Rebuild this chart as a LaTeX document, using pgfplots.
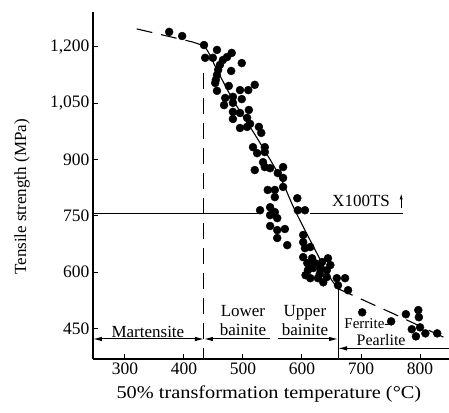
\documentclass[border=0pt]{standalone}
\usepackage{fontspec}
\setmainfont{Liberation Serif}
\usepackage{pgfplots}
\pgfplotsset{compat=1.18}
\usetikzlibrary{arrows.meta}
\begin{document}
\begin{tikzpicture}
\begin{axis}[
  scale only axis, width=356pt, height=347pt,
  xmin=246, xmax=849, ymin=368.7, ymax=1293,
  axis x line=bottom, axis y line=left,
  axis line style={-, line width=1.3pt},
  xtick={300,400,...,800}, ytick={450,600,...,1200},
  tick align=inside, major tick length=5pt,
  tick style={line width=1pt, black},
  /pgf/number format/1000 sep={,},
  /pgf/number format/assume math mode=true,
  tick label style={font=\fontsize{17.5}{19}\selectfont},
  xlabel={\scalebox{1.13}[1]{50\% transformation temperature (°C)}},
  ylabel={Tensile strength (MPa)},
  xlabel style={at={(axis description cs:0.494,-0.101)}, anchor=center, font=\fontsize{18}{20}\selectfont},
  ylabel style={at={(axis description cs:-0.199,0.467)}, anchor=center, font=\fontsize{17}{19}\selectfont},
  clip=false,
]
% horizontal reference line
\addplot[black, line width=1pt] coordinates {(246,755) (525,755)};
\addplot[black, line width=1pt] coordinates {(614,755) (771,755)};
% region boundaries
\addplot[black, line width=1pt, dash pattern=on 16pt off 9pt] coordinates {(434,1131) (434,368.7)};
\addplot[black, line width=1pt] coordinates {(661,555) (661,368.7)};
% fitted curve
\addplot[black, line width=1.1pt, dash pattern=on 16pt off 9pt] coordinates {(320,1248) (415,1213) (432,1204)};
\addplot[black, line width=1.1pt, smooth] coordinates {(432,1204) (440,1190) (456,1139) (483,1059) (512,987) (529,944) (563,853) (588,765) (625,651) (647,587) (661,556)};
\addplot[black, line width=1.1pt, dash pattern=on 16pt off 9pt] coordinates {(661,556) (754,490) (849,420)};
% data points
\addplot[only marks, mark=*, mark size=4pt, black] coordinates {
(375,1240) (397,1229) (434,1205) (456,1192) (481,1184) (436,1171) (449,1171)
(466,1165) (473,1173) (498,1157) (461,1152) (458,1139) (480,1136) (456,1125)
(454,1112) (453,1104) (456,1083) (476,1096) (495,1085) (509,1085) (520,1099)
(470,1064) (483,1067) (498,1061) (468,1045) (483,1051) (510,1032) (483,1027)
(495,1024) (483,1008) (507,1011) (495,984) (507,987) (512,995) (527,987)
(531,971) (517,933) (537,933) (524,917) (537,920) (534,893) (520,872)
(537,880) (546,877) (568,880) (559,864) (568,851) (568,827) (542,819)
(554,819) (554,800) (592,797) (529,765) (546,773) (554,760) (593,765)
(605,765) (546,752) (558,744) (546,723) (571,715) (558,712) (558,691)
(575,672) (602,699) (602,680) (605,664) (614,667) (602,640) (617,637)
(609,624) (622,624) (634,627) (644,637) (648,619) (610,605) (619,611)
(631,611) (642,605) (614,584) (627,584) (642,587) (659,584) (673,584)
(661,565) (678,552) (630,595) (606,592) (636,573)
(702,493) (751,469) (776,488) (797,499) (798,480) (786,448) (800,453)
(793,429) (809,437) (829,437)
};
% annotations
\node[font=\fontsize{17}{19}\selectfont] at (axis cs:339,440) {Martensite};
\draw[{Latex[length=9pt,width=4.5pt]}-{Latex[length=9pt,width=4.5pt]}, line width=1pt] (axis cs:246,422) -- (axis cs:434,422);
\node[font=\fontsize{17}{19}\selectfont, align=center, inner sep=0pt] at (axis cs:500,472) {Lower\\bainite};
\draw[{Latex[length=9pt,width=4.5pt]}-, line width=1pt] (axis cs:434,422) -- (axis cs:546,422);
\node[font=\fontsize{17}{19}\selectfont, align=center, inner sep=0pt] at (axis cs:605,472) {Upper\\bainite};
\draw[-{Latex[length=9pt,width=4.5pt]}, line width=1pt] (axis cs:559,422) -- (axis cs:661,422);
\node[font=\fontsize{15}{17}\selectfont, inner sep=0pt] at (axis cs:710,464) {Ferrite-};
\node[font=\fontsize{16}{18}\selectfont, inner sep=0pt] at (axis cs:734,419) {Pearlite};
\draw[{Latex[length=9pt,width=4.5pt]}-, line width=1pt] (axis cs:661,397) -- (axis cs:849,397);
\node[font=\fontsize{17}{19}\selectfont, inner sep=0pt] at (axis cs:700,790) {X100TS};
\draw[-{Latex[length=6pt,width=3pt]}, line width=0.8pt] (axis cs:768,770) -- (axis cs:768,810);
\end{axis}
\pgfresetboundingbox
\path (-93pt,-53pt) rectangle (356pt,359pt);
\end{tikzpicture}
\end{document}
